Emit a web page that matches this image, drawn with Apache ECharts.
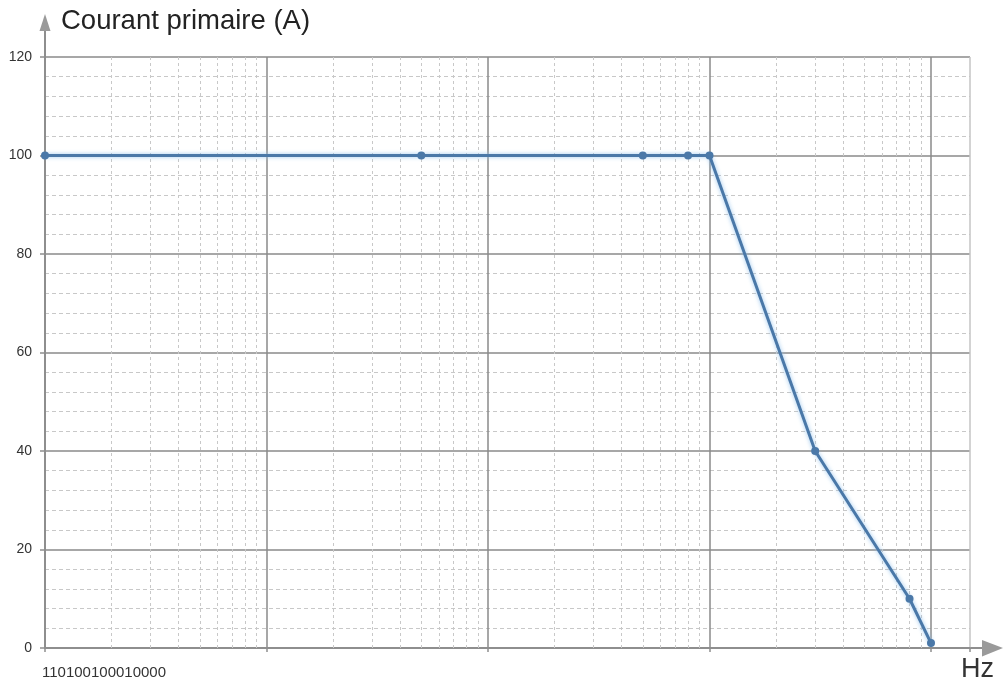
<!DOCTYPE html>
<html><head><meta charset="utf-8">
<script src="https://cdn.jsdelivr.net/npm/echarts@6/dist/echarts.min.js"></script>
<style>html,body{margin:0;padding:0;background:#fff}#c{width:1004px;height:687px}</style>
</head><body><div id="c"></div>
<script>
const freqHz = [1, 50, 500, 800, 1000, 3000, 8000, 10000];
const currentA = [100, 100, 100, 100, 100, 40, 10, 1];
const minorFreq = [2,3,4,5,6,7,8,9, 20,30,40,50,60,70,80,90, 200,300,400,500,600,700,800,900, 2000,3000,4000,5000,6000,7000,8000,9000];
const xLabelText = '110100100010000';
const yName = 'Courant primaire (A)';
const xName = 'Hz';

const chart = echarts.init(document.getElementById('c'));
const G = {left: 45, right: 34, top: 57, bottom: 39};
chart.setOption({
  animation: false,
  grid: {left: G.left, right: G.right, top: G.top, bottom: G.bottom, containLabel: false},
  xAxis: {
    type: 'log', logBase: 10, min: 1, max: 15000,
    axisLine: {show: true, lineStyle: {color: '#8e8e8e', width: 2}},
    axisTick: {show: true, length: 4, lineStyle: {color: '#8e8e8e', width: 1.5}},
    axisLabel: {show: false},
    splitLine: {show: true, lineStyle: {color: ['#8a8a8a','#8a8a8a','#8a8a8a','#8a8a8a','#8a8a8a','#c4c4c4'], width: 1.5}},
    minorTick: {show: false}, minorSplitLine: {show: false}
  },
  yAxis: {
    type: 'value', min: 0, max: 120, interval: 20,
    axisLine: {show: true, lineStyle: {color: '#8e8e8e', width: 2}},
    axisTick: {show: true, length: 5, lineStyle: {color: '#8e8e8e', width: 1.5}},
    axisLabel: {color: '#333', fontSize: 14, fontFamily: 'Liberation Sans, Arial, sans-serif', margin: 13},
    splitLine: {show: true, lineStyle: {color: '#8a8a8a', width: 1.5}},
    minorTick: {show: true, splitNumber: 5, length: 0},
    minorSplitLine: {show: true, lineStyle: {color: '#c8c8c8', width: 1, type: [4, 3]}}
  },
  series: [
    {
      type: 'line', data: [], z: 1, silent: true,
      markLine: {
        silent: true, symbol: ['none', 'none'], animation: false,
        label: {show: false},
        lineStyle: {color: '#c8c8c8', width: 1, type: [3, 3]},
        emphasis: {disabled: true},
        data: minorFreq.map(v => ({xAxis: v}))
      }
    },
    {
      type: 'line', z: 5,
      data: freqHz.map((f, i) => [f, currentA[i]]),
      symbol: 'circle', symbolSize: 8,
      itemStyle: {color: '#4a78a8'},
      lineStyle: {color: '#4a78a8', width: 3, shadowColor: 'rgba(140,190,235,0.9)', shadowBlur: 4}
    }
  ],
  graphic: [
    {type: 'line', shape: {x1: 45, y1: 57, x2: 45, y2: 30}, style: {stroke: '#8e8e8e', lineWidth: 2}},
    {type: 'polygon', shape: {points: [[39.5, 31], [50.5, 31], [45, 14]]}, style: {fill: '#9a9a9a'}},
    {type: 'line', shape: {x1: 970, y1: 648, x2: 983, y2: 648}, style: {stroke: '#8e8e8e', lineWidth: 2}},
    {type: 'polygon', shape: {points: [[982, 640], [982, 656.5], [1003, 648]]}, style: {fill: '#9a9a9a'}},
    {type: 'text', left: 61, top: 7, style: {text: yName, fill: '#222', font: '27.5px "Liberation Sans", Arial, sans-serif'}},
    {type: 'text', left: 961, top: 656, style: {text: xName, fill: '#333', font: '27px "Liberation Sans", Arial, sans-serif'}},
    {type: 'text', left: 42, top: 665, style: {text: xLabelText, fill: '#333', font: '15px "Liberation Sans", Arial, sans-serif'}}
  ]
});
</script></body></html>
